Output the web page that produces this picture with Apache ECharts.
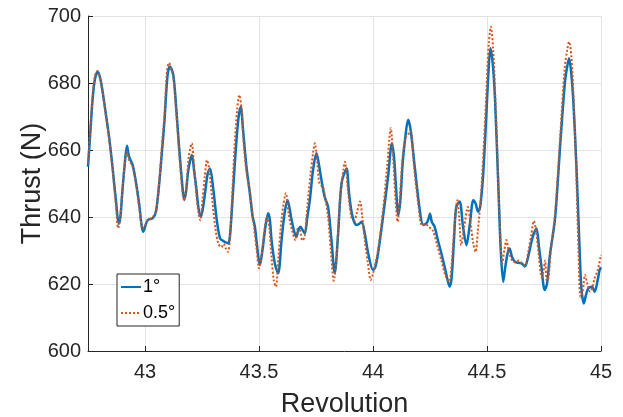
<!DOCTYPE html>
<html>
<head>
<meta charset="utf-8">
<script src="https://cdn.jsdelivr.net/npm/echarts@6/dist/echarts.min.js"></script>
<style>
  html, body { margin: 0; padding: 0; background: #fff; }
  #chart { width: 623px; height: 417px; }
</style>
</head>
<body>
<div id="chart"></div>
<script>
// Thrust over revolution for two angular step sizes
const seriesNames = ['1°', '0.5°'];

// 1° step: [revolution, thrust (N)]
const thrust1deg = [
  [42.750, 655], [42.760, 665], [42.770, 675], [42.780, 681], [42.793, 683.4],
  [42.805, 681], [42.815, 677], [42.829, 670.4], [42.843, 663.6], [42.858, 654.6],
  [42.873, 644.6], [42.885, 638], [42.892, 640], [42.900, 647], [42.910, 655],
  [42.921, 661.3], [42.930, 658], [42.946, 655.5], [42.960, 650.5], [42.975, 643.6],
  [42.985, 637.5], [42.992, 635.6], [43.000, 637], [43.012, 639.1], [43.034, 639.7],
  [43.048, 641.6], [43.063, 650.5], [43.075, 660], [43.085, 668.4], [43.099, 682.4],
  [43.109, 684.9], [43.124, 682.4], [43.136, 673.4], [43.150, 660.5], [43.165, 648.5],
  [43.172, 645.1], [43.180, 647.5], [43.190, 654], [43.206, 658.5], [43.215, 654],
  [43.225, 648.6], [43.235, 642.5], [43.245, 640.1], [43.255, 643], [43.265, 648],
  [43.275, 653], [43.285, 654.5], [43.300, 648], [43.315, 639], [43.329, 633.6],
  [43.340, 633], [43.350, 632.6], [43.365, 632.1], [43.372, 634], [43.380, 641.1],
  [43.394, 656], [43.409, 669], [43.420, 672.9], [43.430, 666], [43.445, 655],
  [43.460, 647], [43.472, 640.1], [43.482, 637.1], [43.497, 628.1], [43.504, 625.7],
  [43.515, 630], [43.528, 637], [43.540, 641.1], [43.548, 639], [43.555, 633.1],
  [43.570, 626], [43.584, 623.2], [43.599, 633.1], [43.612, 641], [43.625, 645.1],
  [43.643, 639.1], [43.655, 635.5], [43.664, 634.1], [43.672, 636], [43.682, 637.1],
  [43.692, 636], [43.701, 635.1], [43.712, 640], [43.723, 645.1], [43.737, 654],
  [43.752, 659], [43.762, 656], [43.774, 651], [43.788, 646], [43.803, 643],
  [43.818, 633], [43.832, 623.2], [43.847, 635], [43.862, 650], [43.884, 654.5],
  [43.895, 647], [43.910, 640.1], [43.928, 637.6], [43.940, 638], [43.950, 638.6],
  [43.964, 635.1], [43.979, 629.1], [44.000, 624.2], [44.010, 625], [44.022, 629.1],
  [44.044, 640.1], [44.066, 652], [44.083, 662], [44.092, 658], [44.100, 650],
  [44.111, 640.6], [44.120, 645], [44.130, 656], [44.142, 664], [44.154, 669],
  [44.165, 666], [44.183, 655], [44.205, 642.1], [44.220, 637.6], [44.232, 638],
  [44.242, 639.1], [44.250, 641], [44.258, 638.5], [44.270, 637.1], [44.285, 633],
  [44.300, 629.1], [44.318, 624], [44.336, 619.2], [44.345, 622], [44.355, 633],
  [44.365, 643], [44.380, 644.6], [44.395, 637], [44.410, 631.6], [44.425, 638],
  [44.440, 645], [44.450, 644], [44.461, 641.6], [44.470, 643], [44.483, 652.5],
  [44.497, 670.4], [44.507, 684], [44.515, 690.4], [44.525, 686], [44.535, 675.4],
  [44.549, 650.5], [44.560, 630.6], [44.571, 620.7], [44.580, 625], [44.590, 629],
  [44.599, 630.6], [44.610, 628], [44.622, 626.7], [44.636, 626.3], [44.651, 626.2],
  [44.666, 625.2], [44.680, 628], [44.695, 632.6], [44.705, 635], [44.717, 636.6],
  [44.728, 631], [44.738, 625.7], [44.753, 618.2], [44.763, 620], [44.776, 628.7],
  [44.797, 638.6], [44.808, 648], [44.820, 660.5], [44.842, 680.4], [44.852, 685],
  [44.860, 687.4], [44.868, 684], [44.878, 675.4], [44.892, 655.5], [44.906, 630.6],
  [44.914, 618.7], [44.925, 614.2], [44.935, 617], [44.945, 618.7], [44.960, 619.2],
  [44.972, 617.7], [44.985, 621], [44.994, 624.2], [45.000, 625]
];

// 0.5° step: [revolution, thrust (N)]
const thrustHalfDeg = [
  [42.750, 656], [42.760, 666], [42.770, 676], [42.780, 682], [42.790, 683.5],
  [42.800, 682], [42.815, 677], [42.829, 670], [42.843, 663], [42.858, 654],
  [42.873, 643], [42.882, 636.7], [42.890, 639], [42.900, 647], [42.910, 655],
  [42.920, 659.5], [42.930, 657], [42.946, 655], [42.960, 650], [42.975, 642.5],
  [42.990, 636.5], [43.000, 637.5], [43.012, 639], [43.025, 639.5], [43.034, 640],
  [43.048, 641.5], [43.063, 651], [43.075, 662], [43.085, 670], [43.097, 684],
  [43.105, 686], [43.115, 684.5], [43.124, 682], [43.136, 672], [43.150, 659],
  [43.165, 647], [43.172, 645], [43.180, 648], [43.192, 658], [43.205, 662],
  [43.215, 655], [43.225, 647], [43.235, 641], [43.243, 639], [43.252, 645],
  [43.262, 652], [43.272, 657], [43.282, 654], [43.295, 645], [43.310, 636],
  [43.322, 632], [43.335, 631], [43.345, 632], [43.355, 630.5], [43.364, 629.6],
  [43.372, 633], [43.380, 643], [43.392, 660], [43.404, 672], [43.414, 676.4],
  [43.424, 672], [43.435, 660], [43.448, 652], [43.460, 647.9], [43.468, 643],
  [43.478, 637], [43.490, 630], [43.500, 624.7], [43.510, 628], [43.522, 635],
  [43.535, 640], [43.545, 637], [43.555, 628], [43.565, 621], [43.574, 619.2],
  [43.585, 628], [43.600, 640], [43.618, 647.1], [43.630, 641], [43.645, 636],
  [43.660, 633.1], [43.670, 636.5], [43.680, 636], [43.690, 633], [43.700, 634],
  [43.712, 643], [43.725, 652], [43.737, 659], [43.745, 662], [43.755, 657],
  [43.765, 650], [43.780, 649], [43.790, 646], [43.803, 640], [43.815, 630],
  [43.828, 621], [43.840, 628], [43.855, 645], [43.870, 654], [43.877, 656.5],
  [43.890, 648], [43.905, 640], [43.918, 639], [43.928, 641], [43.943, 644.6],
  [43.953, 640], [43.964, 633], [43.978, 626], [43.990, 621.2], [44.000, 623],
  [44.022, 630], [44.044, 642], [44.062, 655], [44.078, 666.5], [44.088, 658],
  [44.098, 646], [44.108, 638.6], [44.118, 646], [44.130, 658], [44.145, 664],
  [44.158, 665], [44.166, 665.5], [44.180, 655], [44.200, 643], [44.215, 637.5],
  [44.230, 638], [44.245, 637], [44.262, 636], [44.280, 632], [44.300, 627],
  [44.318, 622.5], [44.334, 620.7], [44.345, 626], [44.357, 637], [44.370, 645],
  [44.378, 640], [44.387, 631.6], [44.400, 637], [44.416, 643], [44.428, 638],
  [44.440, 632], [44.450, 629.6], [44.460, 636], [44.472, 645], [44.485, 660],
  [44.497, 677], [44.508, 692], [44.517, 696.8], [44.527, 690], [44.537, 675],
  [44.549, 652], [44.558, 635], [44.567, 626.2], [44.576, 630], [44.585, 633.1],
  [44.595, 630], [44.610, 627], [44.625, 626.5], [44.640, 627], [44.655, 626],
  [44.668, 625.5], [44.682, 630], [44.695, 635], [44.705, 638.8], [44.715, 636],
  [44.728, 628], [44.740, 622], [44.748, 624], [44.755, 627], [44.762, 621],
  [44.770, 622], [44.780, 630], [44.797, 640], [44.810, 652], [44.822, 665],
  [44.840, 684], [44.852, 690], [44.860, 692.3], [44.870, 688], [44.880, 675],
  [44.892, 652], [44.902, 628], [44.910, 616.2], [44.920, 618], [44.930, 622.7],
  [44.940, 620], [44.952, 617.7], [44.962, 619], [44.972, 621.7], [44.985, 624],
  [45.000, 628.7]
];

// Axis tick positions
const xTicks = [43, 43.5, 44, 44.5, 45];
const yTicks = [600, 620, 640, 660, 680, 700];

const FONT = '"Liberation Sans", Arial, Helvetica, sans-serif';
const AXIS_COLOR = '#262626';
const GRID_COLOR = '#e3e3e3';

const chart = echarts.init(document.getElementById('chart'), null, { renderer: 'canvas' });

chart.setOption({
  animation: false,
  backgroundColor: '#ffffff',
  grid: { left: 88, right: 22, top: 16, bottom: 66, containLabel: false, outerBoundsMode: 'none' },
  legend: {
    left: 117,
    top: 274,
    orient: 'vertical',
    data: seriesNames,
    backgroundColor: '#ffffff',
    borderColor: '#262626',
    borderWidth: 1,
    borderRadius: 0,
    padding: [4, 4, 4, 3],
    itemWidth: 20,
    itemHeight: 10,
    itemGap: 8,
    itemStyle: { opacity: 0 },
    textStyle: { fontFamily: FONT, fontSize: 18, color: '#000', padding: [0, 0, 0, -3] }
  },
  xAxis: {
    type: 'value',
    min: 42.75,
    max: 45,
    name: 'Revolution',
    nameLocation: 'middle',
    nameGap: 40,
    nameMoveOverlap: false,
    nameTextStyle: { fontFamily: FONT, fontSize: 27, color: AXIS_COLOR },
    axisLine: { show: true, onZero: false, lineStyle: { color: AXIS_COLOR, width: 1 } },
    axisTick: { show: true, inside: true, length: 5, customValues: xTicks, lineStyle: { color: AXIS_COLOR } },
    axisLabel: {
      customValues: xTicks,
      margin: 11,
      fontFamily: FONT, fontSize: 20, color: AXIS_COLOR,
      formatter: v => String(v)
    },
    splitLine: { show: true, lineStyle: { color: GRID_COLOR, width: 1 } }
  },
  yAxis: {
    type: 'value',
    min: yTicks[0],
    max: yTicks[yTicks.length - 1],
    interval: 20,
    name: 'Thrust (N)',
    nameLocation: 'middle',
    nameGap: 42,
    nameMoveOverlap: false,
    nameTextStyle: { fontFamily: FONT, fontSize: 27, color: AXIS_COLOR },
    axisLine: { show: true, lineStyle: { color: AXIS_COLOR, width: 1 } },
    axisTick: { show: true, inside: true, length: 5, lineStyle: { color: AXIS_COLOR } },
    axisLabel: { margin: 7, fontFamily: FONT, fontSize: 20, color: AXIS_COLOR },
    splitLine: { show: true, lineStyle: { color: GRID_COLOR, width: 1 } }
  },
  series: [
    {
      name: seriesNames[0],
      type: 'line',
      data: thrust1deg,
      showSymbol: false,
      symbol: 'none',
      smooth: 0.3,
      lineStyle: { color: '#0072BD', width: 2.5 },
      itemStyle: { color: '#0072BD' },
      z: 2
    },
    {
      name: seriesNames[1],
      type: 'line',
      data: thrustHalfDeg,
      showSymbol: false,
      symbol: 'none',
      smooth: 0.3,
      lineStyle: { color: '#D95319', width: 2, type: [2, 2] },
      itemStyle: { color: '#D95319' },
      z: 3
    }
  ]
});
</script>
</body>
</html>
